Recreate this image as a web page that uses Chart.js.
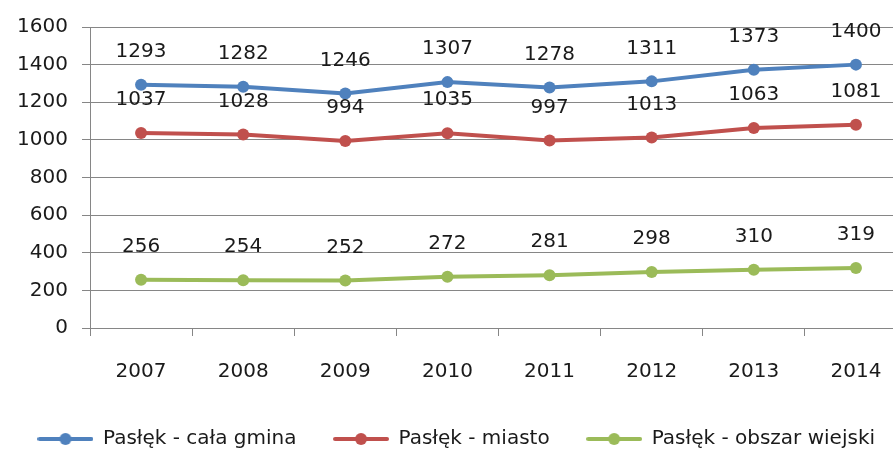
<!DOCTYPE html>
<html>
<head>
<meta charset="utf-8">
<script src="https://cdn.jsdelivr.net/npm/chart.js@4"></script>
<style>
  html, body { margin: 0; padding: 0; background: #fff; overflow: hidden; }
  #wrap { width: 893px; height: 450px; overflow: hidden; }
</style>
</head>
<body>
<div id="wrap"><canvas id="myChart" width="913" height="470"></canvas></div>
<script>
const years = ['2007', '2008', '2009', '2010', '2011', '2012', '2013', '2014'];
const calaGmina = [1293, 1282, 1246, 1307, 1278, 1311, 1373, 1400];
const miasto = [1037, 1028, 994, 1035, 997, 1013, 1063, 1081];
const obszarWiejski = [256, 254, 252, 272, 281, 298, 310, 319];

const FONT = '"DejaVu Sans", sans-serif';

// legend marker: line with a dot in the middle
function marker(color) {
  const c = document.createElement('canvas');
  c.width = 56; c.height = 14;
  const g = c.getContext('2d');
  g.strokeStyle = color; g.lineWidth = 4; g.lineCap = 'round';
  g.beginPath(); g.moveTo(2, 7); g.lineTo(54, 7); g.stroke();
  g.fillStyle = color;
  g.beginPath(); g.arc(28, 7, 6, 0, Math.PI * 2); g.fill();
  return c;
}

const valueLabels = {
  id: 'valueLabels',
  afterDatasetsDraw(chart) {
    const ctx = chart.ctx;
    ctx.save();
    ctx.font = '20px ' + FONT;
    ctx.fillStyle = '#1a1a1a';
    ctx.textAlign = 'center';
    ctx.textBaseline = 'middle';
    chart.data.datasets.forEach((ds, i) => {
      chart.getDatasetMeta(i).data.forEach((pt, j) => {
        ctx.fillText(String(ds.data[j]), pt.x, pt.y - 33);
      });
    });
    ctx.restore();
  }
};

function series(label, data, color) {
  return {
    label: label,
    data: data,
    borderColor: color,
    backgroundColor: color,
    borderWidth: 4,
    pointRadius: 6,
    pointHoverRadius: 6,
    pointBackgroundColor: color,
    pointBorderWidth: 0,
    tension: 0,
    legendMarker: marker(color)
  };
}

const ctx = document.getElementById('myChart');

new Chart(ctx, {
  type: 'line',
  data: {
    labels: years,
    datasets: [
      series('Pasłęk - cała gmina', calaGmina, '#4f81bd'),
      series('Pasłęk - miasto', miasto, '#c0504d'),
      series('Pasłęk - obszar wiejski', obszarWiejski, '#9bbb59')
    ]
  },
  plugins: [valueLabels],
  options: {
    responsive: false,
    animation: false,
    layout: { padding: { top: 27, left: 0, right: 0, bottom: 11 } },
    plugins: {
      tooltip: { enabled: false },
      legend: {
        position: 'bottom',
        labels: {
          font: { family: FONT, size: 20 },
          color: '#1a1a1a',
          usePointStyle: true,
          pointStyleWidth: 55,
          padding: 37,
          generateLabels(chart) {
            return chart.data.datasets.map((ds, i) => ({
              text: ds.label,
              pointStyle: ds.legendMarker,
              fillStyle: ds.borderColor,
              strokeStyle: ds.borderColor,
              lineWidth: 0,
              fontColor: '#1a1a1a',
              datasetIndex: i
            }));
          }
        }
      }
    },
    scales: {
      x: {
        offset: true,
        afterFit(scale) { scale.height = 64; },
        grid: { offset: true, drawOnChartArea: false, drawTicks: true, tickLength: 8, color: '#868686' },
        border: { color: '#868686', width: 1 },
        ticks: { font: { family: FONT, size: 20 }, color: '#1a1a1a', padding: 24, maxRotation: 0 }
      },
      y: {
        min: 0,
        max: 1600,
        afterFit(scale) { scale.width = 90; },
        grid: { color: '#868686', tickLength: 8 },
        border: { color: '#868686', width: 1 },
        ticks: {
          stepSize: 200,
          font: { family: FONT, size: 20 },
          color: '#1a1a1a',
          padding: 14,
          callback: (v) => String(v)
        }
      }
    }
  }
});
</script>
</body>
</html>
